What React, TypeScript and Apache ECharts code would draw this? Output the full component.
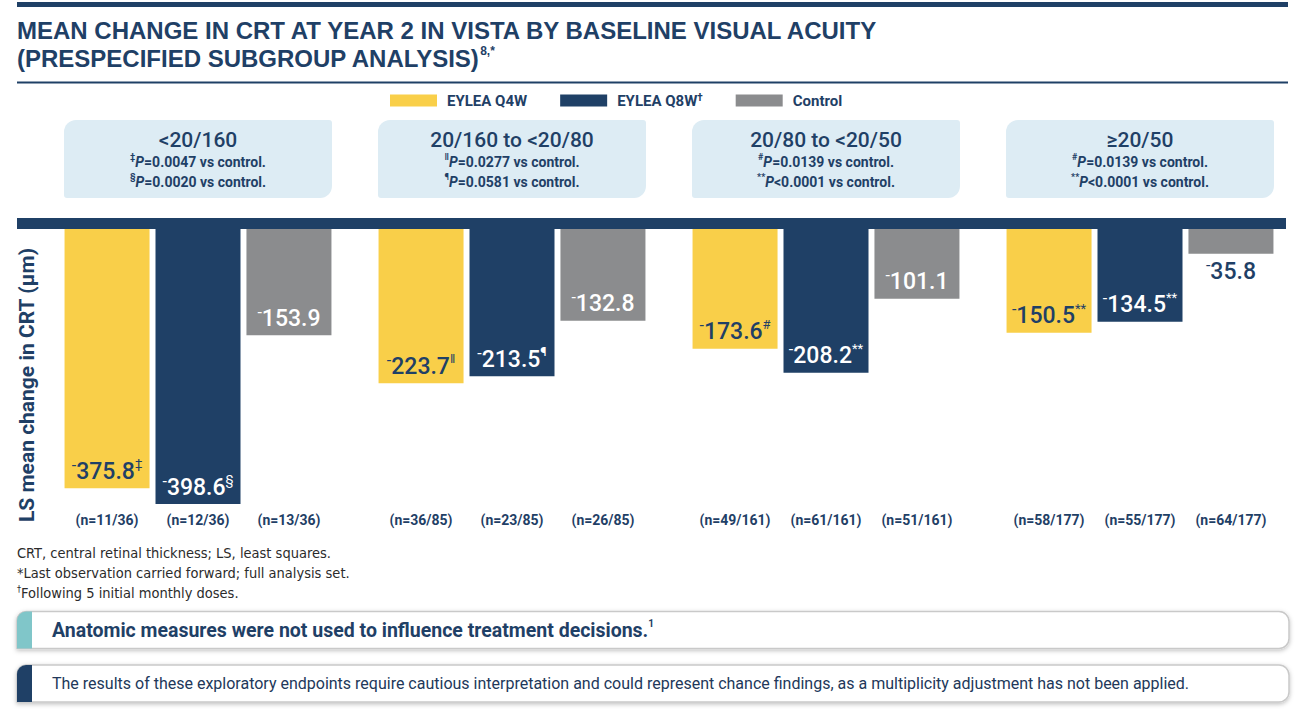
import React, { useEffect, useRef } from "react";
import * as echarts from "echarts";

const groups = ["<20/160", "20/160 to <20/80", "20/80 to <20/50", "≥20/50"];
const seriesNames = ["EYLEA Q4W", "EYLEA Q8W", "Control"];
const q4wValues = [-375.8, -223.7, -173.6, -150.5];
const q8wValues = [-398.6, -213.5, -208.2, -134.5];
const controlValues = [-153.9, -132.8, -101.1, -35.8];
const q4wMarks = ["‡", "‖", "#", "**"];
const q8wMarks = ["§", "¶", "**", "**"];
const controlMarks = ["", "", "", ""];
const q4wN = ["11/36", "36/85", "49/161", "58/177"];
const q8wN = ["12/36", "23/85", "61/161", "55/177"];
const controlN = ["13/36", "26/85", "51/161", "64/177"];
const pMark1 = ["‡", "‖", "#", "#"];
const pText1 = ["=0.0047", "=0.0277", "=0.0139", "=0.0139"];
const pMark2 = ["§", "¶", "**", "**"];
const pText2 = ["=0.0020", "=0.0581", "<0.0001", "<0.0001"];

const NAVY = "#1f4066";
const YELLOW = "#f9cf49";
const GRAY = "#8b8c8e";
const BOX = "#ddecf4";
const TEAL = "#80c6c9";
const FONT = "Roboto, 'Liberation Sans', sans-serif";
const TITLE_FONT = "'Liberation Sans', Arial, sans-serif";
const NOTE_FONT = "'Liberation Sans Narrow', 'DejaVu Sans Condensed', Roboto, sans-serif";

function barSeries(name: string, values: number[], marks: string[], color: string, labelColor: string) {
  return {
    name,
    type: "bar",
    barWidth: 85,
    barGap: "7%",
    itemStyle: { color },
    data: values.map((v) =>
      Math.abs(v) < 60
        ? { value: v, label: { position: "bottom", distance: 4, color: NAVY } }
        : { value: v }
    ),
    label: {
      show: true,
      position: "insideBottom",
      distance: 3,
      color: labelColor,
      fontFamily: FONT,
      formatter: (p: any) =>
        `{m|-}{v|${Math.abs(p.value).toFixed(1)}}` + (marks[p.dataIndex] ? `{s|${marks[p.dataIndex]}}` : ""),
      rich: {
        m: { fontSize: 16, lineHeight: 12, verticalAlign: "top", fontFamily: FONT },
        v: { fontSize: 23, lineHeight: 28, fontWeight: 500, fontFamily: FONT },
        s: { fontSize: 13, lineHeight: 15, verticalAlign: "top", fontFamily: FONT },
      },
    },
  };
}

function calloutBox(y: number, accent: string) {
  return [
    {
      type: "rect",
      shape: { x: 17, y, width: 1272, height: 37, r: [9, 10, 10, 0] },
      style: {
        fill: "#ffffff",
        stroke: "#c9c9c9",
        lineWidth: 1.5,
        shadowBlur: 4,
        shadowColor: "rgba(0,0,0,0.25)",
        shadowOffsetY: 1.5,
      },
    },
    {
      type: "rect",
      shape: { x: 17, y, width: 15, height: 37, r: [9, 0, 0, 0] },
      style: { fill: accent },
    },
  ];
}

export default function App() {
  const ref = useRef<HTMLDivElement>(null);
  useEffect(() => {
    if (!ref.current) return;
    const chart = echarts.init(ref.current, undefined, { renderer: "svg" });
    const option: any = {
      animation: false,
      textStyle: { fontFamily: FONT },
      legend: {
        left: 385,
        top: 87,
        itemWidth: 47,
        itemHeight: 12,
        itemGap: 33,
        icon: "rect",
        data: seriesNames,
        formatter: (name: string) => (name === "EYLEA Q8W" ? `{n|${name}}{s|†}` : `{n|${name}}`),
        textStyle: {
          color: NAVY,
          fontSize: 15,
          fontWeight: "bold",
          fontFamily: FONT,
          padding: [0, 0, 0, 5],
          rich: {
            n: { fontSize: 15, fontWeight: "bold", lineHeight: 17, fontFamily: FONT },
            s: { fontSize: 10, fontWeight: "bold", lineHeight: 10, verticalAlign: "top", fontFamily: FONT },
          },
        },
      },
      grid: { left: 41, top: 229, width: 1256, height: 276 },
      yAxis: { type: "value", min: -400, max: 0, show: false },
      xAxis: [
        {
          type: "category",
          data: groups,
          position: "bottom",
          axisLine: { show: false },
          axisTick: { show: false },
          axisLabel: {
            interval: 0,
            margin: 7,
            formatter: (_v: string, i: number) =>
              `{a|(n=${q4wN[i]})}{a|(n=${q8wN[i]})}{a|(n=${controlN[i]})}`,
            rich: {
              a: { width: 91, align: "center", fontSize: 14, fontWeight: "bold", color: NAVY, fontFamily: FONT, lineHeight: 16 },
            },
          },
        },
        {
          type: "category",
          data: groups,
          position: "top",
          axisLine: { show: false },
          axisTick: { show: false },
          axisLabel: {
            interval: 0,
            margin: 31,
            width: 268,
            align: "center",
            backgroundColor: BOX,
            borderRadius: [12, 3, 12, 3],
            padding: [8, 0, 6, 0],
            formatter: (v: string, i: number) =>
              `{t|${v}}\n{s|${pMark1[i]}}{p|P}{r|${pText1[i]} vs control.}\n{s|${pMark2[i]}}{p|P}{r|${pText2[i]} vs control.}`,
            rich: {
              t: { fontSize: 21, fontWeight: 500, color: NAVY, lineHeight: 24, fontFamily: FONT },
              s: { fontSize: 9, fontWeight: "bold", color: NAVY, lineHeight: 12, verticalAlign: "top", fontFamily: FONT },
              p: { fontSize: 14, fontWeight: "bold", fontStyle: "italic", color: NAVY, lineHeight: 20, fontFamily: FONT },
              r: { fontSize: 14, fontWeight: "bold", color: NAVY, lineHeight: 20, fontFamily: FONT },
            },
          },
        },
      ],
      series: [
        barSeries(seriesNames[0], q4wValues, q4wMarks, YELLOW, NAVY),
        barSeries(seriesNames[1], q8wValues, q8wMarks, NAVY, "#ffffff"),
        barSeries(seriesNames[2], controlValues, controlMarks, GRAY, "#ffffff"),
      ],
      graphic: [
        { type: "rect", shape: { x: 17, y: 2, width: 1271, height: 5 }, style: { fill: NAVY } },
        {
          type: "text",
          x: 17,
          y: 30,
          style: {
            text: "MEAN CHANGE IN CRT AT YEAR 2 IN VISTA BY BASELINE VISUAL ACUITY",
            fill: NAVY,
            font: `bold 24px ${TITLE_FONT}`,
            verticalAlign: "middle",
          },
        },
        {
          type: "text",
          x: 17,
          y: 58,
          style: {
            text: "{a|(PRESPECIFIED SUBGROUP ANALYSIS)}{b|8,*}",
            fill: NAVY,
            verticalAlign: "middle",
            rich: {
              a: { font: `bold 24px ${TITLE_FONT}`, lineHeight: 26, fill: NAVY },
              b: { font: `bold 12px ${TITLE_FONT}`, lineHeight: 13, verticalAlign: "top", fill: NAVY },
            },
          },
        },
        { type: "rect", shape: { x: 17, y: 81.5, width: 1271, height: 2 }, style: { fill: NAVY } },
        { type: "rect", shape: { x: 17, y: 218, width: 1269, height: 11 }, style: { fill: NAVY } },
        {
          type: "text",
          x: 27,
          y: 385,
          rotation: Math.PI / 2,
          style: {
            text: "LS mean change in CRT (μm)",
            fill: NAVY,
            font: `bold 21px ${FONT}`,
            align: "center",
            verticalAlign: "middle",
          },
        },
        {
          type: "text",
          x: 17,
          y: 553,
          style: { text: "CRT, central retinal thickness; LS, least squares.", fill: "#2b2b2b", font: `14.5px ${NOTE_FONT}`, verticalAlign: "middle" },
        },
        {
          type: "text",
          x: 17,
          y: 573,
          style: { text: "*Last observation carried forward; full analysis set.", fill: "#2b2b2b", font: `14.5px ${NOTE_FONT}`, verticalAlign: "middle" },
        },
        {
          type: "text",
          x: 17,
          y: 593,
          style: {
            text: "{s|†}{a|Following 5 initial monthly doses.}",
            fill: "#2b2b2b",
            verticalAlign: "middle",
            rich: {
              s: { font: `9px ${NOTE_FONT}`, lineHeight: 10, verticalAlign: "top", fill: "#2b2b2b" },
              a: { font: `14.5px ${NOTE_FONT}`, lineHeight: 18, fill: "#2b2b2b" },
            },
          },
        },
        ...calloutBox(611.5, TEAL),
        {
          type: "text",
          x: 52,
          y: 630,
          style: {
            text: "{a|Anatomic measures were not used to influence treatment decisions.}{s|1}",
            verticalAlign: "middle",
            rich: {
              a: { font: `bold 19.5px ${FONT}`, lineHeight: 24, fill: NAVY },
              s: { font: `bold 10px ${FONT}`, lineHeight: 11, verticalAlign: "top", fill: NAVY },
            },
          },
        },
        ...calloutBox(665, NAVY),
        {
          type: "text",
          x: 52,
          y: 683.5,
          style: {
            text: "The results of these exploratory endpoints require cautious interpretation and could represent chance findings, as a multiplicity adjustment has not been applied.",
            fill: "#22385a",
            font: `16px ${FONT}`,
            verticalAlign: "middle",
          },
        },
      ],
    };
    chart.setOption(option);
    return () => chart.dispose();
  }, []);
  return <div ref={ref} style={{ position: "absolute", left: 0, top: 0, width: 1300, height: 712 }} />;
}
